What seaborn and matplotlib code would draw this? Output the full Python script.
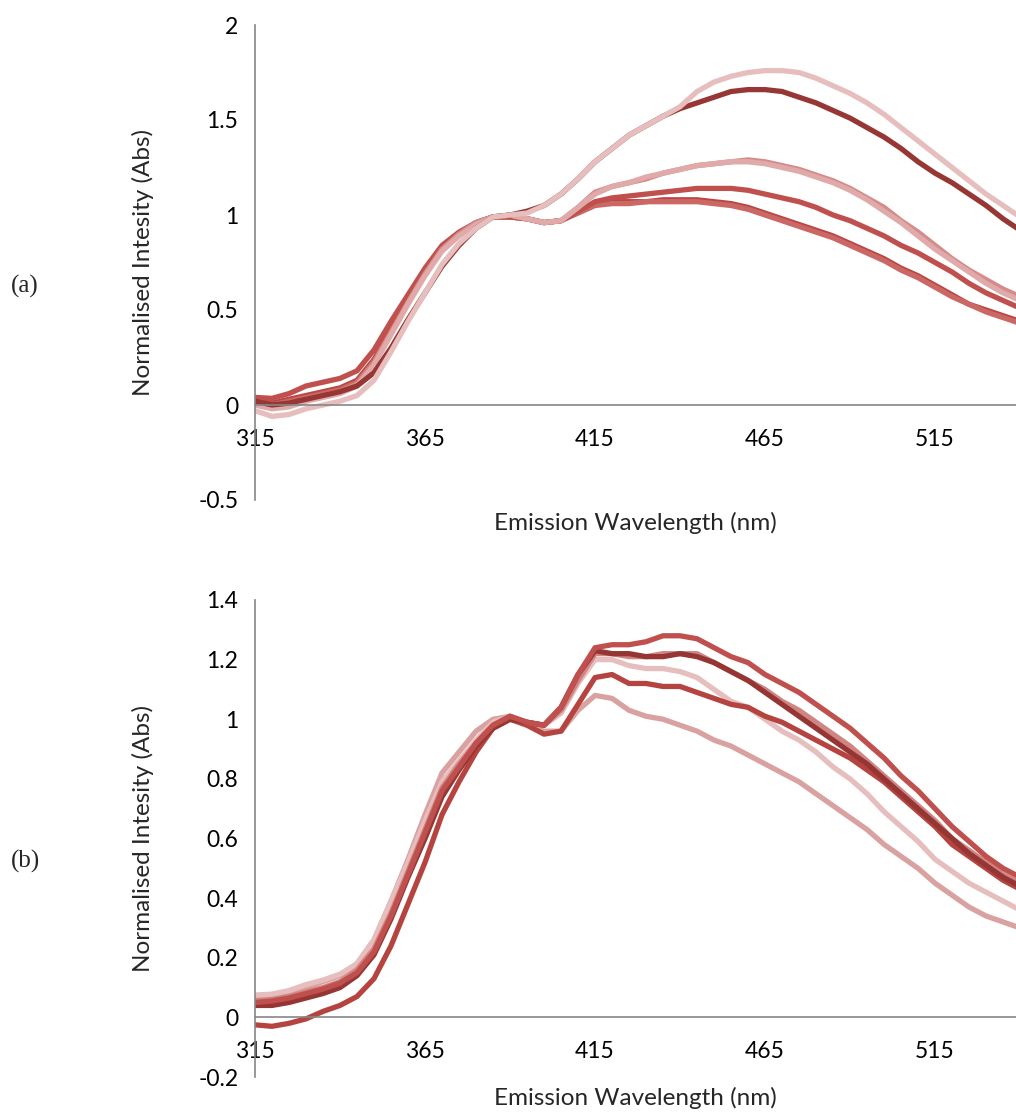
import numpy as np
import pandas as pd
import matplotlib
matplotlib.use("Agg")
import matplotlib.pyplot as plt
import seaborn as sns

# ---------------- data ----------------
wavelength = list(range(315, 545, 5))  # 315 ... 540 nm

# Panel (a)
a_dark = [0.02, 0.00, 0.01, 0.03, 0.05, 0.07, 0.10, 0.17, 0.30, 0.45, 0.59, 0.73, 0.84, 0.93, 0.99, 1.00,
          1.02, 1.05, 1.11, 1.19, 1.28, 1.35, 1.42, 1.47, 1.52, 1.56, 1.59, 1.62, 1.65, 1.66, 1.66, 1.65,
          1.62, 1.59, 1.55, 1.51, 1.46, 1.41, 1.35, 1.28, 1.22, 1.17, 1.11, 1.05, 0.98, 0.92]
a_light = [-0.03, -0.06, -0.05, -0.02, 0.00, 0.02, 0.05, 0.13, 0.28, 0.44, 0.59, 0.74, 0.85, 0.93, 0.99, 1.00,
           1.01, 1.05, 1.11, 1.19, 1.28, 1.35, 1.42, 1.47, 1.52, 1.57, 1.65, 1.70, 1.73, 1.75, 1.76, 1.76,
           1.75, 1.72, 1.68, 1.64, 1.59, 1.53, 1.46, 1.39, 1.32, 1.25, 1.18, 1.11, 1.05, 0.99]
a_red = [0.04, 0.035, 0.06, 0.10, 0.12, 0.14, 0.18, 0.29, 0.44, 0.58, 0.72, 0.84, 0.91, 0.96, 0.99, 0.99,
         0.98, 0.96, 0.97, 1.02, 1.07, 1.09, 1.10, 1.11, 1.12, 1.13, 1.14, 1.14, 1.14, 1.13, 1.11, 1.09,
         1.07, 1.04, 1.00, 0.97, 0.93, 0.89, 0.84, 0.80, 0.75, 0.70, 0.64, 0.59, 0.55, 0.51]
a_low1 = [0.02, 0.01, 0.03, 0.05, 0.07, 0.09, 0.13, 0.24, 0.40, 0.56, 0.71, 0.83, 0.90, 0.96, 0.99, 0.99,
          0.98, 0.96, 0.97, 1.02, 1.06, 1.07, 1.07, 1.07, 1.08, 1.08, 1.08, 1.07, 1.06, 1.04, 1.01, 0.98,
          0.95, 0.92, 0.89, 0.85, 0.81, 0.77, 0.72, 0.68, 0.63, 0.58, 0.53, 0.50, 0.47, 0.44]
a_low2 = [0.00, 0.00, 0.02, 0.04, 0.06, 0.08, 0.12, 0.23, 0.39, 0.55, 0.70, 0.82, 0.90, 0.95, 0.99, 0.99,
          0.98, 0.96, 0.97, 1.01, 1.05, 1.06, 1.06, 1.07, 1.07, 1.07, 1.07, 1.06, 1.05, 1.03, 1.00, 0.97,
          0.94, 0.91, 0.88, 0.84, 0.80, 0.76, 0.71, 0.67, 0.62, 0.57, 0.53, 0.49, 0.46, 0.43]
a_mid1 = [0.01, -0.01, 0.00, 0.03, 0.05, 0.07, 0.11, 0.22, 0.38, 0.54, 0.69, 0.82, 0.90, 0.96, 0.99, 1.00,
          0.98, 0.96, 0.97, 1.04, 1.12, 1.15, 1.17, 1.19, 1.22, 1.24, 1.26, 1.27, 1.28, 1.29, 1.28, 1.26,
          1.24, 1.21, 1.18, 1.14, 1.09, 1.04, 0.97, 0.91, 0.84, 0.77, 0.71, 0.66, 0.61, 0.57]
a_mid2 = [0.00, -0.02, -0.01, 0.02, 0.04, 0.06, 0.10, 0.21, 0.37, 0.53, 0.68, 0.81, 0.89, 0.95, 0.99, 1.00,
          0.98, 0.96, 0.97, 1.04, 1.11, 1.15, 1.17, 1.20, 1.22, 1.24, 1.26, 1.27, 1.28, 1.28, 1.27, 1.25,
          1.23, 1.20, 1.17, 1.13, 1.08, 1.02, 0.96, 0.89, 0.82, 0.76, 0.70, 0.64, 0.59, 0.55]

# Panel (b)
b_red = [0.05, 0.055, 0.065, 0.08, 0.095, 0.115, 0.15, 0.22, 0.34, 0.48, 0.62, 0.76, 0.84, 0.92, 0.98, 1.01,
         0.99, 0.98, 1.04, 1.15, 1.24, 1.25, 1.25, 1.26, 1.28, 1.28, 1.27, 1.24, 1.21, 1.19, 1.15, 1.12,
         1.09, 1.05, 1.01, 0.97, 0.92, 0.87, 0.81, 0.76, 0.70, 0.64, 0.59, 0.54, 0.50, 0.47]
b_dark = [0.04, 0.04, 0.05, 0.065, 0.08, 0.10, 0.14, 0.21, 0.33, 0.47, 0.60, 0.74, 0.83, 0.91, 0.97, 1.00,
          0.99, 0.98, 1.04, 1.15, 1.23, 1.22, 1.22, 1.21, 1.21, 1.22, 1.21, 1.19, 1.16, 1.13, 1.09, 1.05,
          1.01, 0.97, 0.93, 0.89, 0.85, 0.80, 0.75, 0.70, 0.65, 0.60, 0.55, 0.51, 0.47, 0.44]
b_medium = [0.055, 0.06, 0.07, 0.085, 0.10, 0.12, 0.16, 0.23, 0.35, 0.49, 0.63, 0.77, 0.85, 0.92, 0.98, 1.01,
            0.99, 0.98, 1.03, 1.13, 1.22, 1.22, 1.21, 1.21, 1.22, 1.22, 1.22, 1.19, 1.16, 1.13, 1.10, 1.06,
            1.03, 0.99, 0.95, 0.91, 0.86, 0.81, 0.76, 0.71, 0.66, 0.60, 0.56, 0.52, 0.48, 0.45]
b_light = [0.075, 0.078, 0.09, 0.11, 0.125, 0.145, 0.18, 0.26, 0.39, 0.52, 0.66, 0.79, 0.86, 0.93, 0.99, 1.01,
           0.99, 0.98, 1.02, 1.12, 1.20, 1.20, 1.18, 1.17, 1.17, 1.16, 1.14, 1.10, 1.06, 1.04, 1.00, 0.96,
           0.93, 0.89, 0.84, 0.80, 0.75, 0.69, 0.64, 0.59, 0.53, 0.49, 0.45, 0.42, 0.39, 0.36]
b_late = [-0.025, -0.03, -0.02, -0.005, 0.02, 0.04, 0.07, 0.13, 0.24, 0.38, 0.52, 0.68, 0.79, 0.89, 0.97, 1.00,
          0.98, 0.95, 0.96, 1.05, 1.14, 1.15, 1.12, 1.12, 1.11, 1.11, 1.09, 1.07, 1.05, 1.04, 1.01, 0.99,
          0.96, 0.93, 0.90, 0.87, 0.83, 0.79, 0.74, 0.69, 0.64, 0.58, 0.54, 0.50, 0.46, 0.43]
b_pale = [0.065, 0.07, 0.085, 0.10, 0.12, 0.14, 0.18, 0.26, 0.39, 0.53, 0.68, 0.82, 0.89, 0.96, 1.00, 1.01,
          0.98, 0.96, 0.96, 1.03, 1.08, 1.07, 1.03, 1.01, 1.00, 0.98, 0.96, 0.93, 0.91, 0.88, 0.85, 0.82,
          0.79, 0.75, 0.71, 0.67, 0.63, 0.58, 0.54, 0.50, 0.45, 0.41, 0.37, 0.34, 0.32, 0.30]

a_series = {"a_low1": a_low1, "a_low2": a_low2, "a_red": a_red, "a_mid1": a_mid1,
            "a_mid2": a_mid2, "a_dark": a_dark, "a_light": a_light}
b_series = {"b_pale": b_pale, "b_light": b_light, "b_late": b_late, "b_medium": b_medium,
            "b_dark": b_dark, "b_red": b_red}

a_colors = {"a_dark": "#963735", "a_light": "#E6BEBD", "a_red": "#C0504D", "a_low1": "#B94643",
            "a_low2": "#CB6764", "a_mid1": "#D48B89", "a_mid2": "#DFAAA9"}
b_colors = {"b_red": "#C0504D", "b_dark": "#953634", "b_medium": "#D08583", "b_light": "#E6BEBD",
            "b_late": "#B5433F", "b_pale": "#D9A1A0"}


def long_df(series):
    rows = []
    for name, vals in series.items():
        for w, v in zip(wavelength, vals):
            rows.append((name, w, v))
    return pd.DataFrame(rows, columns=["series", "wl", "val"])


# ---------------- figure ----------------
sns.set_theme(style="white")
plt.rcParams["font.family"] = ["Lato", "DejaVu Sans"]

W, H = 1016, 1112
fig = plt.figure(figsize=(W / 100, H / 100), dpi=100)


def px_axes(left, top, right, bottom):
    return fig.add_axes([left / W, 1 - bottom / H, (right - left) / W, (bottom - top) / H])


ax_a = px_axes(255, 25, 1016, 500)
ax_b = px_axes(255, 600, 1016, 1077)

axis_grey = "#868686"
tick_fs = 16.5
label_fs = 17.5


def style(ax, ylim, yticks, ylabels):
    ax.set_xlim(315, 538.8)
    ax.set_ylim(*ylim)
    ax.set_xticks([315, 365, 415, 465, 515])
    ax.set_yticks(yticks)
    ax.set_yticklabels(ylabels)
    for s in ["top", "right"]:
        ax.spines[s].set_visible(False)
    ax.spines["bottom"].set_position(("data", 0))
    for s in ["left", "bottom"]:
        ax.spines[s].set_color(axis_grey)
        ax.spines[s].set_linewidth(1.2)
    ax.tick_params(axis="both", direction="out", length=6, width=1.2, color=axis_grey,
                   labelsize=tick_fs, labelcolor="black")
    ax.tick_params(axis="x", pad=11)
    ax.tick_params(axis="y", pad=6)
    ax.set_xlabel("Emission Wavelength (nm)", fontsize=label_fs)
    ax.set_ylabel("Normalised Intesity (Abs)", fontsize=label_fs)
    ax.yaxis.label.set_va("center")
    ax.xaxis.label.set_va("center")
    ax.yaxis.set_label_coords(-112 / 761, 0.5)
    ax.grid(False)
    ax.set_facecolor("white")


sns.lineplot(data=long_df(a_series), x="wl", y="val", hue="series", palette=a_colors,
             estimator=None, sort=False, legend=False, linewidth=3.8, ax=ax_a)
sns.lineplot(data=long_df(b_series), x="wl", y="val", hue="series", palette=b_colors,
             estimator=None, sort=False, legend=False, linewidth=3.8, ax=ax_b)

style(ax_a, (-0.5, 2.0), [-0.5, 0, 0.5, 1, 1.5, 2], ["-0.5", "0", "0.5", "1", "1.5", "2"])
style(ax_b, (-0.2, 1.4), [-0.2, 0, 0.2, 0.4, 0.6, 0.8, 1.0, 1.2, 1.4],
      ["-0.2", "0", "0.2", "0.4", "0.6", "0.8", "1", "1.2", "1.4"])
ax_a.xaxis.set_label_coords(0.5, -23 / 475)
ax_b.xaxis.set_label_coords(0.5, -21 / 477)

fig.text(25 / W, 1 - 286 / H, "(a)", family="Liberation Serif", fontsize=18, ha="center", va="center")
fig.text(25 / W, 1 - 861 / H, "(b)", family="Liberation Serif", fontsize=18, ha="center", va="center")

fig.savefig("out.png", dpi=100, facecolor="white")
